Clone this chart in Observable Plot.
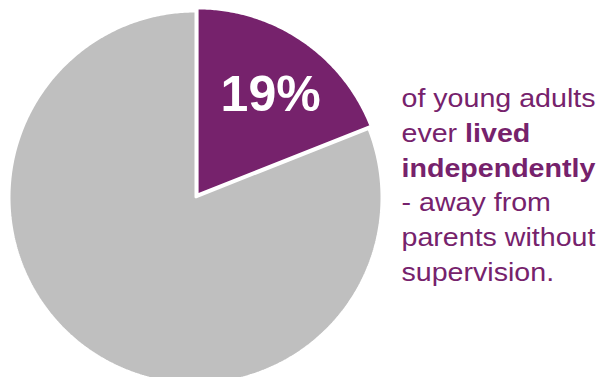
<!DOCTYPE html>
<html>
<head>
<meta charset="utf-8">
<script src="https://cdn.jsdelivr.net/npm/d3@7"></script>
<script src="https://cdn.jsdelivr.net/npm/@observablehq/plot@0.6"></script>
<style>
  html, body { margin: 0; padding: 0; background: #fff; overflow: hidden; }
  #chart svg { display: block; }
</style>
</head>
<body>
<div id="chart"></div>
<script>
// ---- data ----
const categories = ["Lived independently", "Did not"];
const values = [19, 81];
const sliceColors = ["#76226c", "#bfbfbf"];
const explode = [0.02, 0];
const bigLabel = "19%";
const textLines = ["of young adults", "ever lived", "independently", "- away from", "parents without", "supervision."];
const boldWords = ["lived", "independently"];

// ---- build slice polygons from the data with d3.pie ----
const pie = d3.pie().sort(null).value(d => d.value)
  (categories.map((c, i) => ({category: c, value: values[i], color: sliceColors[i], explode: explode[i]})));
const polys = [];
pie.forEach((s, i) => {
  const mid = (s.startAngle + s.endAngle) / 2;
  const ox = Math.sin(mid) * s.data.explode, oy = Math.cos(mid) * s.data.explode;
  const pts = [{x: ox, y: oy}];
  const n = Math.max(8, Math.ceil((s.endAngle - s.startAngle) / 0.01));
  for (let k = 0; k <= n; k++) {
    const a = s.startAngle + (s.endAngle - s.startAngle) * k / n;
    pts.push({x: ox + Math.sin(a), y: oy + Math.cos(a)});
  }
  pts.forEach(p => polys.push({...p, category: s.data.category, color: s.data.color}));
});
const first = pie[0];
const midA = (first.startAngle + first.endAngle) / 2;
const labelPos = [{x: Math.sin(midA) * 0.69, y: Math.cos(midA) * 0.69, text: bigLabel}];

const fs = 26;
const baseline0 = 106.7, lineGap = 34.7, textX = 401;

const plot = Plot.plot({
  width: 603,
  height: 377,
  margin: 0,
  x: {domain: [-1, 1], range: [9, 381], axis: null},
  y: {domain: [-1, 1], range: [383, 11], axis: null},
  style: {fontFamily: "'Liberation Sans', Arial, sans-serif", background: "#fff"},
  marks: [
    Plot.line(polys, {x: "x", y: "y", z: "category", fill: "color", stroke: "#ffffff", strokeWidth: 2, curve: "linear-closed", strokeLinejoin: "miter"}),
    Plot.text(labelPos, {x: "x", y: "y", text: "text", fill: "#ffffff", fontSize: 50, fontWeight: "bold", dx: 3, dy: 4}),
    ...textLines.map((line, i) => Plot.text([line], {
      text: d => d,
      frameAnchor: "top-left",
      textAnchor: "start",
      lineAnchor: "top",
      dx: textX,
      dy: baseline0 + i * lineGap - 0.71 * fs,
      fill: "#76226c",
      fontSize: fs,
      className: "desc"
    }))
  ]
});
document.getElementById("chart").appendChild(plot);

// mixed bold words + slight horizontal stretch of the description text
d3.select(plot).selectAll("g.desc").each(function() {
  const g = d3.select(this);
  const tr = g.attr("transform") || "";
  g.attr("transform", tr + " scale(1.1,1)");
  g.selectAll("text").each(function() {
    const t = d3.select(this);
    const words = t.text().split(" ");
    t.text(null);
    words.forEach((w, j) => {
      t.append("tspan")
        .attr("font-weight", boldWords.includes(w) ? "bold" : null)
        .text((j ? " " : "") + w);
    });
  });
});
</script>
</body>
</html>
